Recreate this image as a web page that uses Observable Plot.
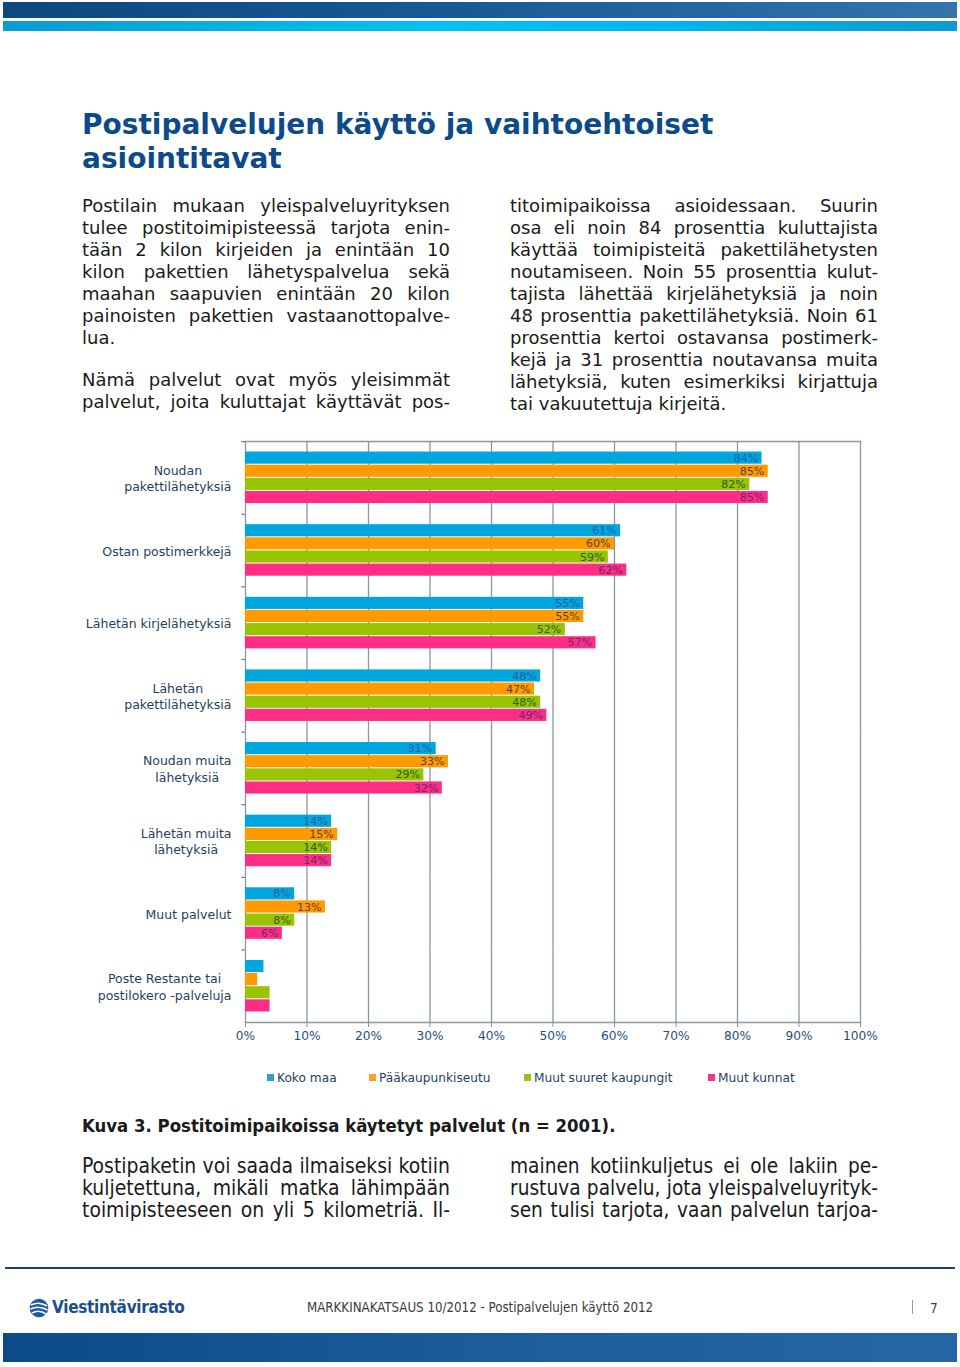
<!DOCTYPE html>
<html>
<head>
<meta charset="utf-8">
<script src="https://cdn.jsdelivr.net/npm/d3@7"></script>
<script src="https://cdn.jsdelivr.net/npm/@observablehq/plot@0.6"></script>
<style>
  html, body { margin: 0; padding: 0; background: #fff; }
  #page { position: relative; width: 960px; height: 1367px; overflow: hidden; font-family: "DejaVu Sans", Verdana, sans-serif; color: #1a1a1a; }
  .abs { position: absolute; }
  .band1 { left: 3px; width: 954px; top: 2px; height: 16px; background: linear-gradient(90deg, #0d477f 0%, #1a5a96 50%, #3574ad 100%); }
  .band2 { left: 3px; width: 954px; top: 21px; height: 10px; background: linear-gradient(90deg, #0a9bd6 0%, #00c2f2 45%, #00b6ec 70%, #0a9bd6 100%); }
  .title { left: 82px; top: 108px; font-weight: bold; font-size: 28px; line-height: 34px; color: #0d4a8a; white-space: nowrap; }
  .col { width: 368px; font-size: 18px; line-height: 22px; }
  .col div { text-align: justify; text-align-last: justify; }
  .col div.last { text-align: left; text-align-last: left; }
  .cond { font-family: "DejaVu Sans Condensed", "DejaVu Sans", sans-serif; }
  .caption { left: 82px; top: 1115px; font-weight: bold; font-size: 18.4px; line-height: 22px; white-space: nowrap; }
  .legend { top: 1070px; font-size: 12.2px; line-height: 16px; color: #1f3f5f; white-space: nowrap; }
  .legend span.sw { display: inline-block; width: 7px; height: 7px; margin-right: 3px; vertical-align: 1px; }
  .footline { left: 5px; width: 950px; top: 1267px; height: 2px; background: #1b3f6e; }
  .bottomband { left: 3px; width: 954px; top: 1333px; height: 29px; background: linear-gradient(90deg, #0c4a88 0%, #1a5c9c 50%, #2466a6 100%); }
</style>
</head>
<body>
<div id="page">
  <div class="abs band1"></div>
  <div class="abs band2"></div>

  <div class="abs title">Postipalvelujen käyttö ja vaihtoehtoiset<br>asiointitavat</div>

  <div class="abs col" id="colL" style="left:82px; top:195px;">
    <div>Postilain mukaan yleispalveluyrityksen</div>
    <div>tulee postitoimipisteessä tarjota enin-</div>
    <div>tään 2 kilon kirjeiden ja enintään 10</div>
    <div>kilon pakettien lähetyspalvelua sekä</div>
    <div>maahan saapuvien enintään 20 kilon</div>
    <div>painoisten pakettien vastaanottopalve-</div>
    <div class="last">lua.</div>
    <div class="last" style="height:20px"></div>
    <div>Nämä palvelut ovat myös yleisimmät</div>
    <div>palvelut, joita kuluttajat käyttävät pos-</div>
  </div>

  <div class="abs col" id="colR" style="left:510px; top:195px;">
    <div>titoimipaikoissa asioidessaan. Suurin</div>
    <div>osa eli noin 84 prosenttia kuluttajista</div>
    <div>käyttää toimipisteitä pakettilähetysten</div>
    <div>noutamiseen. Noin 55 prosenttia kulut-</div>
    <div>tajista lähettää kirjelähetyksiä ja noin</div>
    <div>48 prosenttia pakettilähetyksiä. Noin 61</div>
    <div>prosenttia kertoi ostavansa postimerk-</div>
    <div>kejä ja 31 prosenttia noutavansa muita</div>
    <div>lähetyksiä, kuten esimerkiksi kirjattuja</div>
    <div class="last">tai vakuutettuja kirjeitä.</div>
  </div>

  <div class="abs" id="chart" style="left:0; top:431px;"></div>

  <div id="legend"></div>

  <div class="abs caption cond">Kuva 3. Postitoimipaikoissa käytetyt palvelut (n = 2001).</div>

  <div class="abs col cond" id="colL2" style="left:82px; top:1155px;">
    <div>Postipaketin voi saada ilmaiseksi kotiin</div>
    <div>kuljetettuna, mikäli matka lähimpään</div>
    <div>toimipisteeseen on yli 5 kilometriä. Il-</div>
  </div>
  <div class="abs col cond" id="colR2" style="left:510px; top:1155px;">
    <div>mainen kotiinkuljetus ei ole lakiin pe-</div>
    <div>rustuva palvelu, jota yleispalveluyrityk-</div>
    <div>sen tulisi tarjota, vaan palvelun tarjoa-</div>
  </div>

  <div class="abs footline"></div>
  <svg class="abs" style="left:29px; top:1298px;" width="20" height="20" viewBox="0 0 20 20">
    <circle cx="10" cy="10" r="9.3" fill="#1a5a9e"/>
    <path d="M2 7 Q10 3 18 8" stroke="#fff" stroke-width="1.6" fill="none"/>
    <path d="M1.5 11 Q10 7 18.5 12" stroke="#fff" stroke-width="1.6" fill="none"/>
    <path d="M3 15 Q10 11 17 16" stroke="#fff" stroke-width="1.6" fill="none"/>
  </svg>
  <div class="abs cond" style="left:52px; top:1297px; font-size:17px; font-weight:bold; color:#1a4f8e; line-height:20px; letter-spacing:-0.3px;">Viestintävirasto</div>
  <div class="abs cond" style="left:307px; top:1300px; font-size:13.2px; color:#3a3a3a; line-height:16px; white-space:nowrap;">MARKKINAKATSAUS 10/2012 - Postipalvelujen käyttö 2012</div>
  <div class="abs" style="left:912px; top:1300px; width:1px; height:14px; background:#8a9aaa;"></div>
  <div class="abs cond" style="left:930px; top:1300px; font-size:13.5px; color:#3a3a3a; line-height:16px;">7</div>
  <div class="abs bottomband"></div>
</div>

<script>
// ---------- data ----------
const categories = [
  "Noudan\npakettilähetyksiä",
  "Ostan postimerkkejä",
  "Lähetän kirjelähetyksiä",
  "Lähetän\npakettilähetyksiä",
  "Noudan muita\nlähetyksiä",
  "Lähetän muita\nlähetyksiä",
  "Muut palvelut",
  "Poste Restante tai\npostilokero -palveluja"
];
const seriesNames = ["Koko maa", "Pääkaupunkiseutu", "Muut suuret kaupungit", "Muut kunnat"];
const kokoMaa          = [84, 61, 55, 48, 31, 14, 8, 3];
const paakaupunkiseutu = [85, 60, 55, 47, 33, 15, 13, 2];
const muutSuuret       = [82, 59, 52, 48, 29, 14, 8, 4];
const muutKunnat       = [85, 62, 57, 49, 32, 14, 6, 4];
const showValueLabel   = [true, true, true, true, true, true, true, false];
const xTicks = [0, 10, 20, 30, 40, 50, 60, 70, 80, 90, 100];

const barColors   = ["#00a6de", "#ff9a00", "#99c400", "#ff2d84"];
const labelColors = ["#1d5ea8", "#5a4526", "#2f5a1c", "#6a2a74"];
const legendColors = ["#2a9fd0", "#f7a030", "#9cbf1c", "#ec3a8a"];

const seriesValues = [kokoMaa, paakaupunkiseutu, muutSuuret, muutKunnat];
const rows = [];
categories.forEach((cat, ci) => {
  seriesNames.forEach((s, si) => {
    rows.push({cat, series: s, value: seriesValues[si][ci], labelled: showValueLabel[ci]});
  });
});

// ---------- justified text fitting ----------
function fitColumn(col, grow) {
  const width = col.clientWidth;
  const divs = Array.from(col.children);
  const probe = document.createElement("span");
  probe.style.whiteSpace = "nowrap";
  probe.style.position = "absolute";
  probe.style.visibility = "hidden";
  col.appendChild(probe);
  let maxW = 0;
  divs.forEach(d => { probe.textContent = d.textContent; maxW = Math.max(maxW, probe.getBoundingClientRect().width); });
  col.removeChild(probe);
  if (maxW > width || grow) {
    const fs = parseFloat(getComputedStyle(col).fontSize);
    col.style.fontSize = (fs * (width - 1) / maxW) + "px";
  }
}
fitColumn(document.getElementById("colL"), false);
fitColumn(document.getElementById("colR"), false);
fitColumn(document.getElementById("colL2"), true);
fitColumn(document.getElementById("colR2"), true);

// ---------- chart ----------
const marks = [
  Plot.gridX({ticks: xTicks, stroke: "#8596a5", strokeOpacity: 1, strokeWidth: 1.3}),
  Plot.frame({anchor: "top", facetAnchor: "top", stroke: "#8596a5", strokeWidth: 1.3}),
  Plot.frame({anchor: "bottom", facetAnchor: "bottom", stroke: "#8596a5", strokeWidth: 1.3}),
  Plot.barX(categories, {fy: d => d, x1: () => -0.6, x2: () => 0, insetBottom: 71.4, fill: "#6a7e90"}),
  Plot.barX(rows, {x: "value", y: "series", fy: "cat", fill: "series", insetTop: 0.3, insetBottom: 0.3}),
  ...seriesNames.map((s, si) => Plot.text(rows, {
    filter: d => d.series === s && d.labelled,
    x: "value", y: "series", fy: "cat",
    text: d => d.value + "%",
    textAnchor: "end", dx: -4, fontSize: 11, fill: labelColors[si]
  })),
  Plot.text(categories, {
    fy: d => d, text: d => d, frameAnchor: "left", dx: -14, textAnchor: "end",
    fontSize: 12.5, lineHeight: 1.3, fill: "#1f3f5f"
  }),
  Plot.axisX({ticks: xTicks, tickFormat: d => d + "%", tickSize: 5, tickPadding: 4, fontSize: 12.2,
    stroke: "#8596a5", fill: "#1f4e79", label: null})
];

const chart = Plot.plot({
  width: 960,
  height: 619,
  marginLeft: 245,
  marginRight: 100,
  marginTop: 10,
  marginBottom: 28,
  style: {fontFamily: "DejaVu Sans, sans-serif", background: "transparent", overflow: "visible"},
  x: {domain: [0, 100], label: null},
  y: {domain: seriesNames, axis: null, paddingInner: 0.03, paddingOuter: 0.78, round: false},
  fy: {domain: categories, axis: null, padding: 0, round: false},
  color: {domain: seriesNames, range: barColors},
  marks
});
document.getElementById("chart").appendChild(chart);

// center multi-line category labels on their widest line
const catKeys = new Set(categories.map(c => c.replace("\n", "")));
chart.querySelectorAll("text").forEach(t => {
  if (!catKeys.has(t.textContent)) return;
  const w = t.getBBox().width;
  t.setAttribute("text-anchor", "middle");
  const spans = t.querySelectorAll("tspan");
  if (spans.length) spans.forEach(sp => sp.setAttribute("x", -w / 2));
  else t.setAttribute("x", -w / 2);
});

// ---------- legend ----------
const legendLeft = [267, 369, 524, 708];
const legend = document.getElementById("legend");
seriesNames.forEach((s, i) => {
  const item = document.createElement("div");
  item.className = "abs legend";
  item.style.left = legendLeft[i] + "px";
  item.innerHTML = `<span class="sw" style="background:${legendColors[i]}"></span>${s}`;
  legend.appendChild(item);
});
</script>
</body>
</html>
